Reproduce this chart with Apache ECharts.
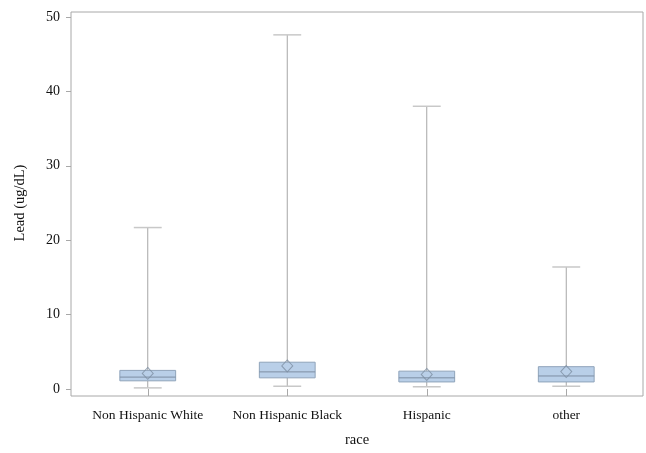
<!DOCTYPE html>
<html>
<head>
<meta charset="utf-8">
<script src="https://cdn.jsdelivr.net/npm/echarts@6/dist/echarts.min.js"></script>
<style>
  html, body { margin: 0; padding: 0; background: #fff; }
  #chart { width: 646px; height: 453px; }
</style>
</head>
<body>
<div id="chart"></div>
<script>
// categories and box statistics
const categories = ["Non Hispanic White", "Non Hispanic Black", "Hispanic", "other"];
const lowWhisker = [0.15, 0.37, 0.3, 0.37];
const q1 = [1.1, 1.5, 0.95, 0.95];
const median = [1.6, 2.3, 1.5, 1.75];
const q3 = [2.5, 3.6, 2.4, 3.0];
const highWhisker = [21.7, 47.6, 38.0, 16.4];
const means = [2.1, 3.1, 1.96, 2.35];

const chart = echarts.init(document.getElementById("chart"));
const font = "Liberation Serif";

const boxData = categories.map((c, i) => [i, lowWhisker[i], q1[i], median[i], q3[i], highWhisker[i]]);
const meanData = categories.map((c, i) => [i, means[i]]);

function renderBox(params, api) {
  const x = api.value(0);
  const band = api.size([1, 0])[0];
  const boxW = band * 0.4;
  const capW = boxW / 2;
  const lo = api.coord([x, api.value(1)]);
  const b1 = api.coord([x, api.value(2)]);
  const md = api.coord([x, api.value(3)]);
  const b3 = api.coord([x, api.value(4)]);
  const hi = api.coord([x, api.value(5)]);
  const cx = lo[0];
  const whisk = { stroke: "#a6a6a6", lineWidth: 1 };
  const cap = { stroke: "#c8c8c8", lineWidth: 1.5 };
  return {
    type: "group",
    children: [
      { type: "line", shape: { x1: cx, y1: hi[1], x2: cx, y2: b3[1] }, style: whisk },
      { type: "line", shape: { x1: cx, y1: b1[1], x2: cx, y2: lo[1] }, style: whisk },
      { type: "line", shape: { x1: cx - capW / 2, y1: hi[1], x2: cx + capW / 2, y2: hi[1] }, style: cap },
      { type: "line", shape: { x1: cx - capW / 2, y1: lo[1], x2: cx + capW / 2, y2: lo[1] }, style: cap },
      {
        type: "rect",
        shape: { x: cx - boxW / 2, y: b3[1], width: boxW, height: b1[1] - b3[1] },
        style: { fill: "#b9cfe8", stroke: "#8fa3ba", lineWidth: 1 }
      },
      { type: "line", shape: { x1: cx - boxW / 2, y1: md[1], x2: cx + boxW / 2, y2: md[1] }, style: { stroke: "#7d8ea3", lineWidth: 1 } }
    ]
  };
}

const option = {
  animation: false,
  backgroundColor: "#fff",
  grid: [
    // frame only
    { left: 71, right: 3, top: 12, bottom: 57, show: true, borderColor: "#a8a8a8", borderWidth: 1 },
    // data grid
    { left: 78, right: 10, top: 17, bottom: 57.5 }
  ],
  xAxis: [
    { gridIndex: 0, type: "value", show: false },
    {
      gridIndex: 1,
      type: "category",
      data: categories,
      offset: 1,
      axisLine: { show: false },
      axisTick: { show: true, alignWithLabel: true, interval: 0, length: 7, lineStyle: { color: "#a8a8a8" } },
      axisLabel: { fontFamily: font, fontSize: 13.5, color: "#111", margin: 18, interval: 0, hideOverlap: false },
      name: "race",
      nameLocation: "middle",
      nameGap: 43,
      nameTextStyle: { fontFamily: font, fontSize: 14.5, color: "#111" }
    }
  ],
  yAxis: [
    { gridIndex: 0, type: "value", show: false },
    {
      gridIndex: 1,
      type: "value",
      min: 0,
      max: 50,
      interval: 10,
      offset: 7,
      axisLine: { show: false },
      axisTick: { show: true, length: 5, lineStyle: { color: "#a8a8a8" } },
      splitLine: { show: false },
      axisLabel: { fontFamily: font, fontSize: 14, color: "#111", margin: 11 },
      name: "Lead (ug/dL)",
      nameLocation: "middle",
      nameGap: 43,
      nameTextStyle: { fontFamily: font, fontSize: 14.5, color: "#111" }
    }
  ],
  series: [
    {
      type: "custom",
      xAxisIndex: 1,
      yAxisIndex: 1,
      renderItem: renderBox,
      encode: { x: 0, y: [1, 2, 3, 4, 5] },
      data: boxData,
      z: 2
    },
    {
      type: "scatter",
      xAxisIndex: 1,
      yAxisIndex: 1,
      symbol: "diamond",
      symbolSize: [11, 12],
      itemStyle: { color: "rgba(0,0,0,0)", borderColor: "#7d8ea3", borderWidth: 1 },
      data: meanData,
      z: 3
    }
  ]
};

chart.setOption(option);
</script>
</body>
</html>
